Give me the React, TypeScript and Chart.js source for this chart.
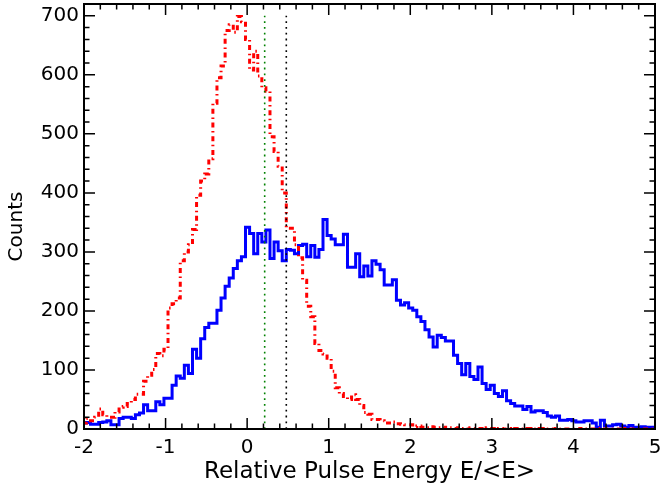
import React, { useEffect, useRef } from "react";
import { Chart, registerables } from "chart.js";

Chart.register(...registerables);

// Histogram bin layout (left edge of first bin, bin width)
const BIN_START = -2.02;
const BIN_WIDTH = 0.05;

// Blue (solid) histogram counts
const blueCounts = [
  10, 10, 11, 8, 8, 11, 12, 14, 7, 7,
  18, 20, 20, 18, 24, 27, 41, 31, 31, 46,
  41, 52, 52, 74, 90, 86, 108, 94, 135, 120,
  153, 172, 179, 179, 201, 222, 242, 256, 272, 285,
  292, 342, 331, 297, 331, 317, 337, 289, 317, 302,
  285, 304, 303, 297, 311, 313, 292, 311, 291, 304,
  355, 328, 322, 312, 312, 330, 274, 274, 297, 258,
  276, 259, 285, 279, 270, 244, 244, 253, 218, 210,
  214, 205, 201, 190, 182, 168, 156, 139, 159, 155,
  149, 149, 125, 111, 92, 111, 89, 84, 105, 77,
  67, 74, 60, 55, 65, 48, 43, 39, 39, 33,
  38, 29, 31, 31, 28, 22, 20, 22, 15, 15,
  16, 14, 12, 12, 14, 14, 10, 3, 15, 5,
  5, 7, 8, 5, 3, 6, 3, 3, 4, 3,
  3,
];

// Red (dash-dot) histogram counts
const redCounts = [
  10, 10, 18, 14, 20, 34, 24, 20, 20, 29,
  37, 38, 43, 50, 59, 59, 81, 91, 101, 128,
  124, 135, 205, 212, 222, 285, 300, 312, 338, 396,
  420, 432, 458, 552, 595, 615, 675, 685, 672, 699,
  690, 660, 608, 640, 598, 578, 572, 495, 470, 445,
  400, 340, 340, 312, 290, 252, 208, 190, 145, 133,
  127, 120, 98, 70, 60, 55, 50, 58, 50, 40,
  28, 25, 16, 16, 14, 10, 10, 12, 9, 8,
  7, 7, 4, 5, 3, 2, 4, 3, 2, 1,
  3, 2, 1, 2, 1, 0, 2, 1, 1, 0,
  2, 1, 0, 1, 0, 1, 0, 1, 0, 0,
  1, 0, 0, 1, 0, 0, 0, 1, 0, 0,
  0, 0, 0, 1, 0, 0, 0, 1, 0, 0,
  0, 0, 0, 0, 1, 0, 0, 0, 0, 0,
  0,
];

// Vertical marker lines
const greenLineX = 0.215;
const blackLineX = 0.48;
const markerTop = 700;

// Axes
const X_MIN = -2;
const X_MAX = 5;
const X_MAJOR = 1;
const X_MINOR = 0.2;
const Y_MIN = 0;
const Y_MAX = 720;
const Y_MAJOR = 100;
const Y_MINOR = 20;

const X_LABEL = "Relative Pulse Energy E/<E>";
const Y_LABEL = "Counts";

const FONT = "'DejaVu Sans', 'Liberation Sans', sans-serif";

function toSteps(counts: number[]) {
  const pts = counts.map((c, i) => ({ x: BIN_START + i * BIN_WIDTH, y: c }));
  pts.push({ x: BIN_START + counts.length * BIN_WIDTH, y: counts[counts.length - 1] });
  return pts;
}

const frameTicks = {
  id: "frameTicks",
  afterDatasetsDraw(chart: any) {
    const { ctx, chartArea: a, scales } = chart;
    const xs = scales.x;
    const ys = scales.y;
    ctx.save();
    ctx.strokeStyle = "#000";
    ctx.lineWidth = 1.5;
    const MAJ = 11;
    const MIN = 5.5;
    const nx = Math.round((X_MAX - X_MIN) / X_MINOR);
    const perX = Math.round(X_MAJOR / X_MINOR);
    ctx.beginPath();
    for (let i = 0; i <= nx; i++) {
      const v = X_MIN + i * X_MINOR;
      const px = xs.getPixelForValue(v);
      const len = i % perX === 0 ? MAJ : MIN;
      ctx.moveTo(px, a.bottom);
      ctx.lineTo(px, a.bottom - len);
      ctx.moveTo(px, a.top);
      ctx.lineTo(px, a.top + len);
    }
    const ny = Math.floor((Y_MAX - Y_MIN) / Y_MINOR);
    const perY = Math.round(Y_MAJOR / Y_MINOR);
    for (let i = 0; i <= ny; i++) {
      const v = Y_MIN + i * Y_MINOR;
      const py = ys.getPixelForValue(v);
      const len = i % perY === 0 ? MAJ : MIN;
      ctx.moveTo(a.left, py);
      ctx.lineTo(a.left + len, py);
      ctx.moveTo(a.right, py);
      ctx.lineTo(a.right - len, py);
    }
    ctx.stroke();
    ctx.lineWidth = 2;
    ctx.strokeRect(a.left, a.top, a.right - a.left, a.bottom - a.top);

    // y-axis title
    ctx.fillStyle = "#000";
    ctx.font = `20px ${FONT}`;
    ctx.textAlign = "center";
    ctx.textBaseline = "middle";
    ctx.translate(17, (a.top + a.bottom) / 2 + 10);
    ctx.rotate(-Math.PI / 2);
    ctx.fillText(Y_LABEL, 0, 0);
    ctx.restore();
  },
};

export default function App() {
  const ref = useRef<HTMLCanvasElement | null>(null);

  useEffect(() => {
    document.body.style.margin = "0";
    const canvas = ref.current;
    if (!canvas) return;
    const chart = new Chart(canvas, {
      type: "line",
      data: {
        datasets: [
          {
            data: toSteps(blueCounts),
            borderColor: "#0000ff",
            borderWidth: 3,
            stepped: "after",
            pointRadius: 0,
            fill: false,
            order: 4,
          },
          {
            data: toSteps(redCounts),
            borderColor: "#ff0000",
            borderWidth: 3,
            borderDash: [5, 3.6, 1.5, 3.6],
            stepped: "after",
            pointRadius: 0,
            fill: false,
            order: 3,
          },
          {
            data: [
              { x: greenLineX, y: 0 },
              { x: greenLineX, y: markerTop },
            ],
            borderColor: "#008000",
            borderWidth: 1.6,
            borderDash: [1.8, 4],
            pointRadius: 0,
            fill: false,
            order: 2,
          },
          {
            data: [
              { x: blackLineX, y: 0 },
              { x: blackLineX, y: markerTop },
            ],
            borderColor: "#000000",
            borderWidth: 1.6,
            borderDash: [1.8, 4],
            pointRadius: 0,
            fill: false,
            order: 1,
          },
        ],
      },
      options: {
        animation: false,
        responsive: false,
        maintainAspectRatio: false,
        events: [],
        layout: { padding: { top: 4, right: 5, left: 0, bottom: 0 } },
        plugins: {
          legend: { display: false },
          tooltip: { enabled: false },
        },
        scales: {
          x: {
            type: "linear",
            min: X_MIN,
            max: X_MAX,
            grid: { display: false, drawTicks: false },
            border: { display: false },
            ticks: {
              stepSize: X_MAJOR,
              includeBounds: false,
              color: "#000",
              padding: 7,
              maxRotation: 0,
              autoSkip: false,
              font: { family: FONT, size: 20 },
            },
            title: {
              display: true,
              text: X_LABEL,
              color: "#000",
              font: { family: FONT, size: 23 },
              padding: { top: 0, bottom: 4 },
            },
            afterFit(scale: any) {
              scale.height = 61;
              scale.paddingLeft = 0;
              scale.paddingRight = 0;
            },
          },
          y: {
            type: "linear",
            min: Y_MIN,
            max: Y_MAX,
            grid: { display: false, drawTicks: false },
            border: { display: false },
            ticks: {
              stepSize: Y_MAJOR,
              includeBounds: false,
              color: "#000",
              padding: 5,
              autoSkip: false,
              font: { family: FONT, size: 20 },
            },
            afterFit(scale: any) {
              scale.width = 84;
              scale.paddingTop = 0;
              scale.paddingBottom = 0;
            },
          },
        },
      },
      plugins: [frameTicks],
    });
    return () => chart.destroy();
  }, []);

  return (
    <div style={{ width: 660, height: 490 }}>
      <canvas ref={ref} width={660} height={490} style={{ display: "block" }} />
    </div>
  );
}
